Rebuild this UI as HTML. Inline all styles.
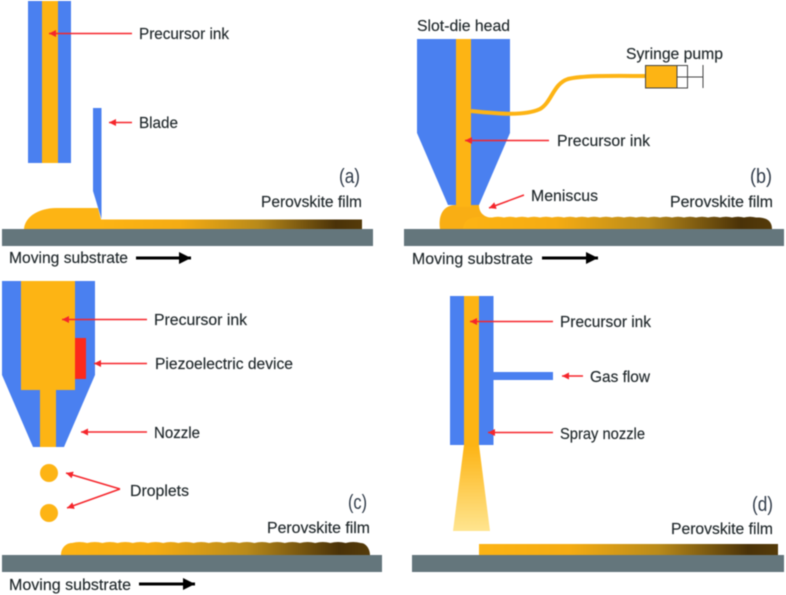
<!DOCTYPE html>
<html><head><meta charset="utf-8"><style>
html,body{margin:0;padding:0;background:#fff;width:786px;height:595px;overflow:hidden}
svg{display:block;filter:blur(.4px)}
text{font-family:"Liberation Sans",sans-serif;font-size:16px;fill:#20282b;stroke:#20282b;stroke-width:.15}
.b{fill:#4a80f0}.i{fill:#fdb414}.s{fill:#64767c}
.r{stroke:#f5262c;stroke-width:1.500;fill:none;marker-end:url(#rh)}
.k{stroke:#000;stroke-width:3;fill:none;marker-end:url(#kh)}
text.p{font-size:20px;fill:#2f3a48;stroke:none}
</style></head><body>
<svg width="786" height="595" viewBox="0 0 786 595" xmlns="http://www.w3.org/2000/svg">
<defs>
<marker id="rh" markerUnits="userSpaceOnUse" markerWidth="8" markerHeight="8" refX="7" refY="3.500" orient="auto"><path d="M0 0L7 3.500L0 7Z" fill="#f5262c"/></marker>
<marker id="kh" markerUnits="userSpaceOnUse" markerWidth="14" markerHeight="14" refX="12" refY="6" orient="auto"><path d="M0 0L12 6L0 12Z" fill="#000"/></marker>
<linearGradient id="f"><stop offset="0" stop-color="#fdb414"/><stop offset=".3" stop-color="#f5ac13"/><stop offset=".6" stop-color="#b98a1a"/><stop offset=".9" stop-color="#4a3208"/><stop offset="1" stop-color="#553b0a"/></linearGradient>
<linearGradient id="sp" x1="0" y1="0" x2="0" y2="1"><stop offset="0" stop-color="#fdb414"/><stop offset="1" stop-color="#ffe590"/></linearGradient>
</defs>

<!-- (a) -->
<rect class="b" x="28" y="1" width="43" height="162"/>
<rect class="i" x="42" y="1" width="16" height="162"/>
<path class="b" d="M93 108H101.500V219L93 191Z"/>
<path d="M24 229C25 216 40 208 56 208H98L101 219.500H300V229Z" class="i"/>
<rect x="101" y="219.500" width="261" height="9.500" fill="url(#f)"/>
<rect class="s" x="2" y="229" width="371" height="17"/>
<path class="r" d="M132 33.500H49"/>
<path class="r" d="M132 122.500H109"/>
<path class="k" d="M136 258H191"/>
<text x="139" y="39" textLength="90" lengthAdjust="spacingAndGlyphs">Precursor ink</text>
<text x="139" y="128" textLength="39" lengthAdjust="spacingAndGlyphs">Blade</text>
<text class="p" x="339" y="183" textLength="21" lengthAdjust="spacingAndGlyphs">(a)</text>
<text x="261" y="207" textLength="101" lengthAdjust="spacingAndGlyphs">Perovskite film</text>
<text x="9" y="263" textLength="119" lengthAdjust="spacingAndGlyphs">Moving substrate</text>

<!-- (b) -->
<path class="b" d="M417 39H510V133L479 205H448L417 133Z"/>
<path d="M440 229C438 214 444 205 456 205H479C479 212 483 217 492 218L500 229Z" fill="#f9ae14"/>
<rect class="i" x="456" y="39" width="15" height="168"/>
<path d="M471 111C500 114 525 116 540 109C552 102 553 84 568 79C585 75 620 76 646 76" fill="none" stroke="#fdb414" stroke-width="4"/>
<path fill="url(#f)" d="M463 229C464 220 470 217 480 217l12 .5q6-1.600 12 0q6-1.600 12 0q6-1.600 12 0q6-1.600 12 0q6-1.600 12 0q6-1.600 12 0q6-1.600 12 0q6-1.600 12 0q6-1.600 12 0q6-1.600 12 0q6-1.600 12 0q6-1.600 12 0q6-1.600 12 0q6-1.600 12 0q6-1.600 12 0q6-1.600 12 0q6-1.600 12 0q6-1.600 12 0q6-1.600 12 0q6-1.600 12 0q6-1.600 12 0q6-1.600 12 0C768 217 772 222 772 229Z"/>
<rect class="s" x="404" y="229" width="380" height="17"/>
<rect x="645" y="65" width="32" height="23" fill="#fdb414"/>
<path d="M645.500 65.500H687.500V88H645.500ZM677 65.500V88M677 77H703M703 65V88" fill="none" stroke="#444" stroke-width="1"/>
<path class="r" d="M549 140.500H465"/>
<path class="r" d="M524 195L489 208"/>
<path class="k" d="M542 258H598"/>
<text x="417" y="31" textLength="93" lengthAdjust="spacingAndGlyphs">Slot-die head</text>
<text x="626" y="59" textLength="97" lengthAdjust="spacingAndGlyphs">Syringe pump</text>
<text x="557" y="146" textLength="93" lengthAdjust="spacingAndGlyphs">Precursor ink</text>
<text x="531" y="201" textLength="67" lengthAdjust="spacingAndGlyphs">Meniscus</text>
<text class="p" x="750" y="183" textLength="22" lengthAdjust="spacingAndGlyphs">(b)</text>
<text x="670" y="207" textLength="103" lengthAdjust="spacingAndGlyphs">Perovskite film</text>
<text x="412" y="264" textLength="121" lengthAdjust="spacingAndGlyphs">Moving substrate</text>

<!-- (c) -->
<path class="b" d="M2 281H95V375L64 447H33L2 375Z"/>
<path class="i" d="M21 281H75V390H56V447H40V390H21Z"/>
<rect x="75" y="338" width="11" height="41" fill="#fb2a1c"/>
<circle class="i" cx="49" cy="473" r="9"/>
<circle class="i" cx="49" cy="513" r="9"/>
<path fill="url(#f)" d="M61 555C61 548 66 543 72 543q7.600-2 15.200 0q7.600-2 15.200 0q7.600-2 15.200 0q7.600-2 15.200 0q7.600-2 15.200 0q7.600-2 15.200 0q7.600-2 15.200 0q7.600-2 15.200 0q7.600-2 15.200 0q7.600-2 15.200 0q7.600-2 15.200 0q7.600-2 15.200 0q7.600-2 15.200 0q7.600-2 15.200 0q7.600-2 15.200 0q7.600-2 15.200 0q7.600-2 15.200 0q7.600-2 15.200 0q7.600-2 15.200 0C366 543 370 549 370 555Z"/>
<rect class="s" x="2" y="555" width="380" height="17"/>
<path class="r" d="M147 319.500H62"/>
<path class="r" d="M147 363.500H94"/>
<path class="r" d="M147 432H81"/>
<path class="r" d="M120 489L66 473"/>
<path class="r" d="M120 489L67 508"/>
<path class="k" d="M139 584H195"/>
<text x="154" y="325" textLength="93" lengthAdjust="spacingAndGlyphs">Precursor ink</text>
<text x="155" y="369" textLength="138" lengthAdjust="spacingAndGlyphs">Piezoelectric device</text>
<text x="154" y="438" textLength="46" lengthAdjust="spacingAndGlyphs">Nozzle</text>
<text x="130" y="496" textLength="59" lengthAdjust="spacingAndGlyphs">Droplets</text>
<text class="p" x="348" y="509" textLength="19" lengthAdjust="spacingAndGlyphs">(c)</text>
<text x="267" y="533" textLength="103" lengthAdjust="spacingAndGlyphs">Perovskite film</text>
<text x="9" y="590" textLength="122" lengthAdjust="spacingAndGlyphs">Moving substrate</text>

<!-- (d) -->
<rect class="b" x="450" y="296" width="43.500" height="149"/>
<rect class="b" x="493" y="372" width="60" height="8"/>
<rect class="i" x="464" y="296" width="15" height="149"/>
<path fill="url(#sp)" d="M464 445H479L490 531H453Z"/>
<rect x="479" y="544" width="299" height="11" fill="url(#f)"/>
<rect class="s" x="412" y="555" width="372" height="17"/>
<path class="r" d="M553 321.500H470"/>
<path class="r" d="M583 376H562"/>
<path class="r" d="M553 432.500H488"/>
<text x="560" y="327" textLength="91" lengthAdjust="spacingAndGlyphs">Precursor ink</text>
<text x="590" y="382" textLength="60" lengthAdjust="spacingAndGlyphs">Gas flow</text>
<text x="560" y="439" textLength="85" lengthAdjust="spacingAndGlyphs">Spray nozzle</text>
<text class="p" x="752" y="511" textLength="21" lengthAdjust="spacingAndGlyphs">(d)</text>
<text x="671" y="534" textLength="102" lengthAdjust="spacingAndGlyphs">Perovskite film</text>
</svg>
</body></html>
